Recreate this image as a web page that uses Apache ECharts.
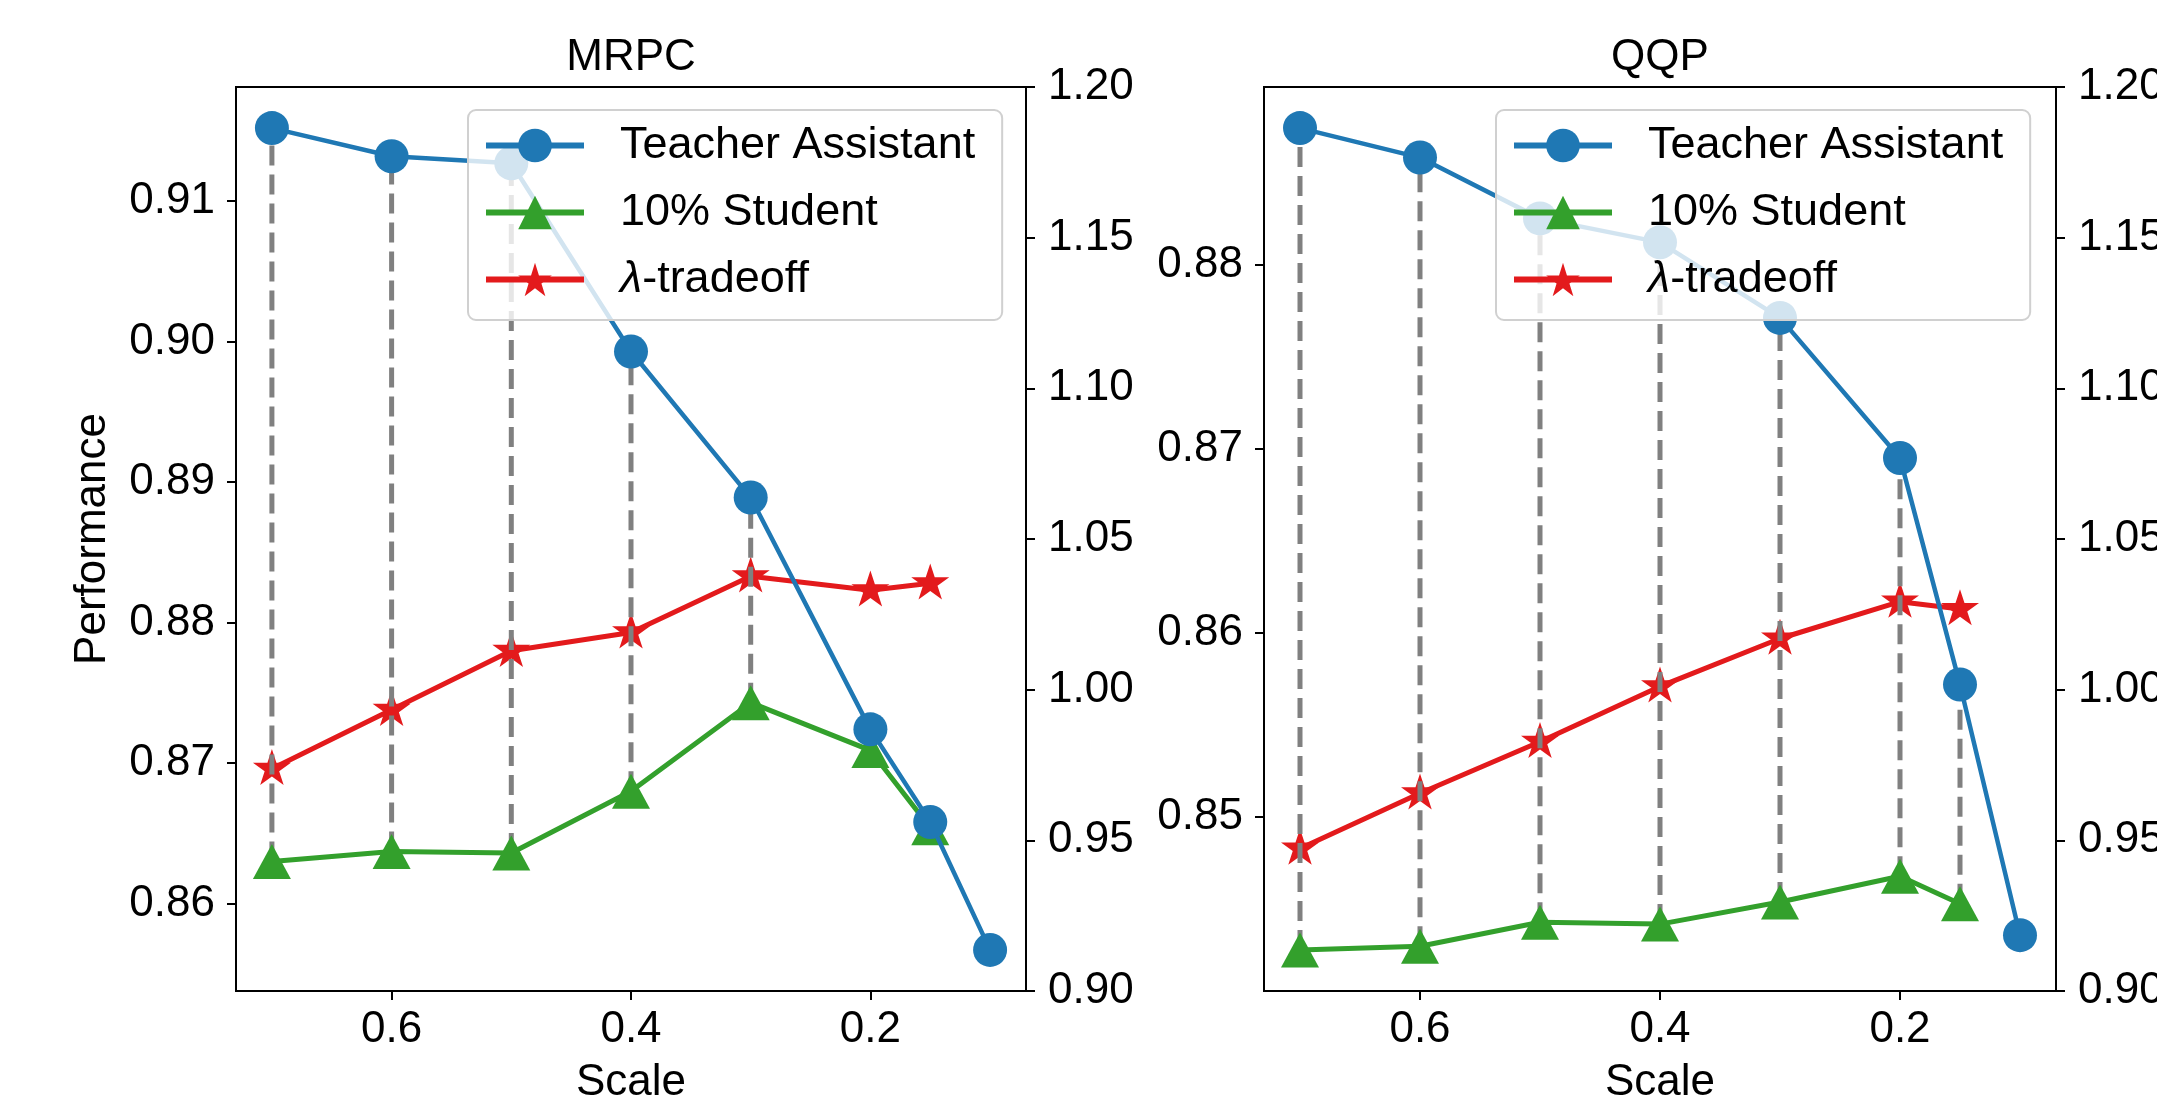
<!DOCTYPE html>
<html>
<head>
<meta charset="utf-8">
<script src="https://cdn.jsdelivr.net/npm/echarts@6/dist/echarts.min.js"></script>
<style>
html,body{margin:0;padding:0;background:#fff;}
#chart{width:2157px;height:1103px;}
</style>
</head>
<body>
<div id="chart"></div>
<script>
// ---- data ----
const scales = [0.7, 0.6, 0.5, 0.4, 0.3, 0.2, 0.15, 0.1];
const seriesNames = ['Teacher Assistant', '10% Student', 'λ-tradeoff'];
const panelTitles = ['MRPC', 'QQP'];

const mrpcTeacher = [0.9152, 0.9132, 0.9127, 0.8993, 0.8889, 0.8724, 0.8658, 0.8567];
const mrpcStudent = [0.8630, 0.8637, 0.8636, 0.8680, 0.8743, 0.8709, 0.8654];
const mrpcLambda  = [0.8696, 0.8738, 0.8780, 0.8793, 0.8833, 0.8823, 0.8828];

const qqpTeacher = [0.8874, 0.8858, 0.8825, 0.8812, 0.8771, 0.8695, 0.8572, 0.8436];
const qqpStudent = [0.8428, 0.8430, 0.8443, 0.8442, 0.8454, 0.8468, 0.8453];
const qqpLambda  = [0.8483, 0.8513, 0.8541, 0.8571, 0.8597, 0.8617, 0.8613];

const xTicks = [0.6, 0.4, 0.2];
const mrpcYTicks = [0.86, 0.87, 0.88, 0.89, 0.90, 0.91];
const qqpYTicks = [0.85, 0.86, 0.87, 0.88];
const rightTicks = [0.90, 0.95, 1.00, 1.05, 1.10, 1.15, 1.20];

// ---- styling ----
const FONT = 'Liberation Sans';
const COLORS = ['#1f78b4', '#33a02c', '#e31a1c'];
const STAR = 'path://M0,-100L22.45,-30.9L95.1,-30.9L36.33,11.8L58.78,80.9L0,38.2L-58.78,80.9L-36.33,11.8L-95.1,-30.9L-22.45,-30.9Z';

function padRange(arr, frac) {
  const mn = Math.min.apply(null, arr), mx = Math.max.apply(null, arr);
  const m = (mx - mn) * frac;
  return [mn - m, mx + m];
}

const grids = [
  {left: 236, top: 87, width: 790, height: 904},
  {left: 1264, top: 87, width: 792, height: 904}
];
const panels = [
  {teacher: mrpcTeacher, student: mrpcStudent, lambda: mrpcLambda, yTicks: mrpcYTicks},
  {teacher: qqpTeacher, student: qqpStudent, lambda: qqpLambda, yTicks: qqpYTicks}
];

const xRange = padRange(scales, 0.05);

const axisLineStyle = {show: true, lineStyle: {color: '#000', width: 2}};
const tickStyle = {show: true, length: 9, lineStyle: {color: '#000', width: 2}};
const labelBase = {color: '#000', fontSize: 44, fontFamily: FONT};

const option = {
  animation: false,
  backgroundColor: '#fff',
  title: panelTitles.map((t, i) => ({
    text: t,
    left: grids[i].left + grids[i].width / 2,
    top: 36,
    textAlign: 'center',
    padding: 0,
    textStyle: {color: '#000', fontSize: 44, fontWeight: 'normal', fontFamily: FONT}
  })),
  grid: grids.map(g => Object.assign({show: true, borderColor: '#000', borderWidth: 2, backgroundColor: 'transparent', containLabel: false, outerBoundsMode: 'none'}, g)),
  legend: grids.map((g, i) => ({
    orient: 'vertical',
    left: i === 0 ? 468 : 1496,
    top: 110,
    z: 10,
    padding: [13, 27, 18, 15],
    itemGap: 22,
    itemWidth: 98,
    itemHeight: 42,
    lineStyle: {width: 6},
    backgroundColor: 'rgba(255,255,255,0.8)',
    borderColor: '#d0d0d0',
    borderWidth: 2,
    borderRadius: 8,
    data: seriesNames,
    formatter: name => name === 'λ-tradeoff' ? '{i|λ}-tradeoff' : name,
    textStyle: {
      color: '#000', fontSize: 45, fontFamily: FONT, padding: [0, 0, 0, 31],
      rich: {i: {fontStyle: 'italic', fontSize: 45, fontFamily: FONT, color: '#000'}}
    }
  })),
  xAxis: grids.map((g, i) => ({
    type: 'value',
    gridIndex: i,
    inverse: true,
    min: xRange[0],
    max: xRange[1],
    name: 'Scale',
    nameLocation: 'middle',
    nameGap: 70,
    nameTextStyle: {color: '#000', fontSize: 44, fontFamily: FONT},
    axisLine: axisLineStyle,
    axisTick: Object.assign({customValues: xTicks}, tickStyle),
    axisLabel: Object.assign({customValues: xTicks, margin: 17, formatter: v => v.toFixed(1)}, labelBase),
    splitLine: {show: false}
  })),
  yAxis: [],
  series: []
};

panels.forEach((p, i) => {
  const all = p.teacher.concat(p.student, p.lambda);
  const yr = padRange(all, 0.05);
  option.yAxis.push({
    type: 'value', gridIndex: i, position: 'left',
    min: yr[0], max: yr[1],
    name: i === 0 ? 'Performance' : '',
    nameLocation: 'middle', nameGap: 121,
    nameTextStyle: {color: '#000', fontSize: 44, fontFamily: FONT},
    axisLine: axisLineStyle,
    axisTick: Object.assign({customValues: p.yTicks}, tickStyle),
    axisLabel: Object.assign({customValues: p.yTicks, margin: 21, formatter: v => v.toFixed(2)}, labelBase),
    splitLine: {show: false}
  });
  option.yAxis.push({
    type: 'value', gridIndex: i, position: 'right',
    min: rightTicks[0], max: rightTicks[rightTicks.length - 1],
    axisLine: axisLineStyle,
    axisTick: Object.assign({customValues: rightTicks}, tickStyle),
    axisLabel: Object.assign({customValues: rightTicks, margin: 22, formatter: v => v.toFixed(2)}, labelBase),
    splitLine: {show: false}
  });
  const yIdx = i * 2;
  const base = {xAxisIndex: i, yAxisIndex: yIdx, showSymbol: true, silent: true, emphasis: {disabled: true}};
  option.series.push(Object.assign({
    type: 'line', name: seriesNames[2], z: 2,
    data: p.lambda.map((v, k) => [scales[k], v]),
    symbol: STAR, symbolSize: [38, 36], symbolOffset: [0, -1.8],
    lineStyle: {color: COLORS[2], width: 5},
    itemStyle: {color: COLORS[2]}
  }, base));
  option.series.push({
    type: 'custom', xAxisIndex: i, yAxisIndex: yIdx, z: 3, silent: true,
    data: p.student.map((s, k) => [scales[k], s, p.teacher[k]]),
    encode: {x: 0, y: [1, 2]},
    renderItem: (params, api) => {
      const a = api.coord([api.value(0), api.value(1)]);
      const b = api.coord([api.value(0), api.value(2)]);
      return {type: 'line', shape: {x1: a[0], y1: a[1], x2: b[0], y2: b[1]},
        style: {stroke: '#808080', lineWidth: 5, lineDash: [20, 9]}};
    }
  });
  option.series.push(Object.assign({
    type: 'line', name: seriesNames[1], z: 4,
    data: p.student.map((v, k) => [scales[k], v]),
    symbol: 'triangle', symbolSize: [38, 35],
    lineStyle: {color: COLORS[1], width: 5},
    itemStyle: {color: COLORS[1]}
  }, base));
  option.series.push(Object.assign({
    type: 'line', name: seriesNames[0], z: 5,
    data: p.teacher.map((v, k) => [scales[k], v]),
    symbol: 'circle', symbolSize: 34,
    lineStyle: {color: COLORS[0], width: 4.5},
    itemStyle: {color: COLORS[0]}
  }, base));
});

const chart = echarts.init(document.getElementById('chart'), null, {renderer: 'canvas'});
chart.setOption(option);
</script>
</body>
</html>
